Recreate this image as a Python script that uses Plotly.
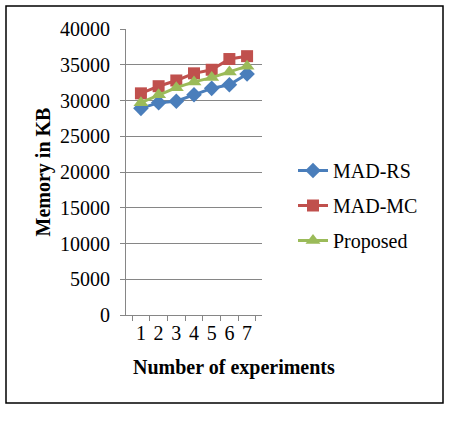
import plotly.graph_objects as go

experiments = ["1", "2", "3", "4", "5", "6", "7"]
mad_rs = [28900, 29700, 29900, 30800, 31700, 32200, 33700]
mad_mc = [31000, 32000, 32800, 33800, 34300, 35800, 36200]
proposed = [29700, 30800, 31800, 32600, 33200, 34000, 34800]

FONT = "Liberation Serif, Times New Roman, serif"
W, H = 449, 422
L, R, T, B = 126, 262, 29, 315

fig = go.Figure()
series = [
    ("MAD-RS", mad_rs, "#4A7EBB", "diamond", 12),
    ("MAD-MC", mad_mc, "#C0504D", "square", 12),
    ("Proposed", proposed, "#9BBB59", "triangle-up", 13),
]
for i, (name, vals, col, sym, sz) in enumerate(series):
    fig.add_trace(go.Scatter(
        x=experiments, y=vals, name=name, mode="lines+markers",
        line=dict(color=col, width=3),
        marker=dict(symbol=sym, size=sz, color=col),
        legendgroup=f"g{i}",
    ))

def px_x(p):
    return (p - L) / (R - L)

def px_y(p):
    return (B - p) / (B - T)

fig.update_layout(
    width=W, height=H,
    margin=dict(l=L, r=W - R, t=T, b=H - B),
    paper_bgcolor="white", plot_bgcolor="white",
    font=dict(family=FONT, size=20, color="black"),
    showlegend=True,
    legend=dict(x=px_x(293), y=px_y(151), xanchor="left", yanchor="top",
                font=dict(size=20), tracegroupgap=6, bgcolor="rgba(0,0,0,0)"),
    xaxis=dict(type="category", tickson="boundaries", ticks="outside", ticklen=5,
               tickmode="array", tickvals=experiments, ticktext=experiments,
               tickangle=0,
               tickcolor="#868686", showline=True, linecolor="#868686", linewidth=1,
               showgrid=False, tickfont=dict(size=20), fixedrange=True),
    yaxis=dict(range=[0, 40000], dtick=5000, tickformat="d", ticks="outside", ticklen=5,
               tickcolor="#868686", showline=True, linecolor="#868686", linewidth=1,
               showgrid=True, gridcolor="#868686", gridwidth=1, zeroline=False,
               tickfont=dict(size=20), ticklabelstandoff=6,
               title=dict(text="<b>Memory in KB</b>", font=dict(size=20), standoff=4)),
    annotations=[dict(text="<b>Number of experiments</b>", xref="paper", yref="paper",
                      x=px_x(234), y=px_y(367), xanchor="center", yanchor="middle",
                      showarrow=False, font=dict(size=20))],
    shapes=[dict(type="rect", xref="paper", yref="paper",
                 x0=px_x(6), x1=px_x(443), y0=px_y(403), y1=px_y(6),
                 line=dict(color="black", width=1.5), fillcolor="rgba(0,0,0,0)", layer="below")],
)

fig.write_html("out.html")
